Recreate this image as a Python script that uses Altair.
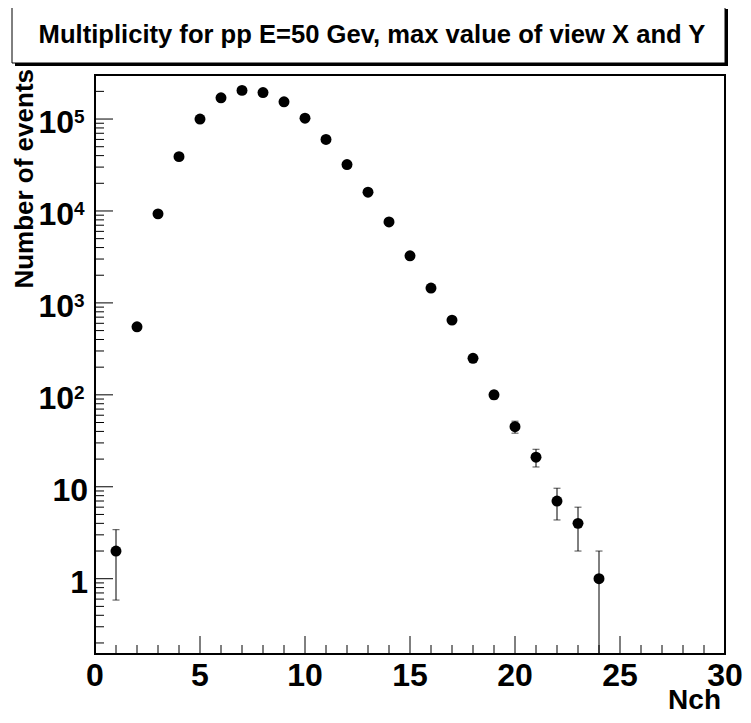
import altair as alt
import pandas as pd
import numpy as np

# ---- data ----
nch = [1, 2, 3, 4, 5, 6, 7, 8, 9, 10, 11, 12, 13, 14, 15, 16, 17, 18, 19, 20, 21, 22, 23, 24]
events = [2, 550, 9300, 39000, 100000, 170000, 205000, 194000, 154000, 102000,
          60000, 32000, 16000, 7600, 3250, 1450, 650, 250, 100, 45, 21, 7, 4, 1]

title_text = "Multiplicity for pp E=50 Gev, max value of view X and Y"
x_title = "Nch"
y_title = "Number of events"

x_tick_labels = [0, 5, 10, 15, 20, 25, 30]
y_exp_ticks = [100, 1000, 10000, 100000]
y_exp_base = ["10", "10", "10", "10"]
y_exp_sup = ["2", "3", "4", "5"]
y_plain_ticks = [1, 10]
y_plain_labels = ["1", "10"]

FONT = "Liberation Sans"
W, H = 630, 579

ydom = [0.1517, 301300]
xdom = [0, 30]

xs = alt.Scale(domain=xdom, zero=False, nice=False)
ys = alt.Scale(type="log", domain=ydom, nice=False)

err = np.sqrt(np.array(events, dtype=float))
df = pd.DataFrame({
    "n": nch,
    "count": events,
    "lo": np.maximum(np.array(events) - err, 1e-3),
    "hi": np.array(events) + err,
})

one = pd.DataFrame({"a": [0]})

# ticks (positions on the axes)
y_major = [10.0 ** k for k in range(0, 6)]
y_minor = [m * 10.0 ** k for k in range(-1, 6) for m in range(2, 10)
           if ydom[0] <= m * 10.0 ** k <= ydom[1]]
x_major = list(range(0, 31, 5))
x_minor = [i for i in range(0, 31) if i % 5 != 0]

X = lambda f: alt.X(f, type="quantitative", scale=xs, axis=None)
Y = lambda f: alt.Y(f, type="quantitative", scale=ys, axis=None)

# title box with shadow
shadow = alt.Chart(one).mark_rect(color="black").encode(
    x=alt.value(-80), x2=alt.value(633), y=alt.value(-66), y2=alt.value(-9))
box = alt.Chart(one).mark_rect(fill="white", stroke="black", strokeWidth=1).encode(
    x=alt.value(-83), x2=alt.value(630), y=alt.value(-68), y2=alt.value(-12))
title = alt.Chart(pd.DataFrame({"t": [title_text]})).mark_text(
    font=FONT, fontWeight="bold", fontSize=25.6, align="center", baseline="middle",
    color="black").encode(x=alt.value(277), y=alt.value(-40), text="t:N")

# ticks
ymaj = alt.Chart(pd.DataFrame({"v": y_major})).mark_rule(color="black", strokeWidth=1).encode(
    y=Y("v"), x=alt.value(0), x2=alt.value(18))
ymin = alt.Chart(pd.DataFrame({"v": y_minor})).mark_rule(color="black", strokeWidth=1).encode(
    y=Y("v"), x=alt.value(0), x2=alt.value(9))
xmaj = alt.Chart(pd.DataFrame({"v": x_major})).mark_rule(color="black", strokeWidth=1).encode(
    x=X("v"), y=alt.value(H), y2=alt.value(H - 18))
xmin = alt.Chart(pd.DataFrame({"v": x_minor})).mark_rule(color="black", strokeWidth=1).encode(
    x=X("v"), y=alt.value(H), y2=alt.value(H - 9))

# tick labels
xlab = alt.Chart(pd.DataFrame({"v": x_tick_labels, "t": [str(v) for v in x_tick_labels]})).mark_text(
    font=FONT, fontWeight="bold", fontSize=32, align="center", baseline="alphabetic",
    color="black").encode(x=X("v"), y=alt.value(611), text="t:N")
yexp_df = pd.DataFrame({"v": y_exp_ticks, "b": y_exp_base, "s": y_exp_sup})
ybase = alt.Chart(yexp_df).mark_text(
    font=FONT, fontWeight="bold", fontSize=32, align="right", baseline="alphabetic",
    dy=14, color="black").encode(y=Y("v"), x=alt.value(-21), text="b:N")
ysup = alt.Chart(yexp_df).mark_text(
    font=FONT, fontWeight="bold", fontSize=19, align="left", baseline="alphabetic",
    dy=4, color="black").encode(y=Y("v"), x=alt.value(-21), text="s:N")
yplain = alt.Chart(pd.DataFrame({"v": y_plain_ticks, "t": y_plain_labels})).mark_text(
    font=FONT, fontWeight="bold", fontSize=32, align="right", baseline="alphabetic",
    dy=14, color="black").encode(y=Y("v"), x=alt.value(-7), text="t:N")

# axis titles
ytitle = alt.Chart(pd.DataFrame({"t": [y_title]})).mark_text(
    font=FONT, fontWeight="bold", fontSize=26, align="right", baseline="alphabetic",
    angle=270, color="black").encode(x=alt.value(-62), y=alt.value(-6), text="t:N")
xtitle = alt.Chart(pd.DataFrame({"t": [x_title]})).mark_text(
    font=FONT, fontWeight="bold", fontSize=28, align="right", baseline="alphabetic",
    color="black").encode(x=alt.value(626), y=alt.value(634), text="t:N")

# data
bars = alt.Chart(df).mark_rule(color="black", strokeWidth=1, clip=True).encode(
    x=X("n"), y=Y("lo"), y2="hi:Q")
cap_hi = alt.Chart(df).mark_tick(orient="horizontal", size=7, thickness=1, color="black", clip=True).encode(
    x=X("n"), y=Y("hi"))
cap_lo = alt.Chart(df).mark_tick(orient="horizontal", size=7, thickness=1, color="black", clip=True).encode(
    x=X("n"), y=Y("lo"))
points = alt.Chart(df).mark_circle(size=120, color="black", opacity=1).encode(
    x=X("n"), y=Y("count"))

chart = alt.layer(
    shadow, box, title, ymaj, ymin, xmaj, xmin, xlab, ybase, ysup, yplain,
    ytitle, xtitle, bars, cap_hi, cap_lo, points
).properties(
    width=W, height=H,
    autosize=alt.AutoSizeParams(type="none"),
    padding={"left": 87, "top": 67, "right": 18, "bottom": 61},
).configure(
    background="white",
    view=alt.ViewConfig(stroke="black", strokeWidth=2),
)

chart.save("out.html", embed_options={"renderer": "svg", "actions": False})
